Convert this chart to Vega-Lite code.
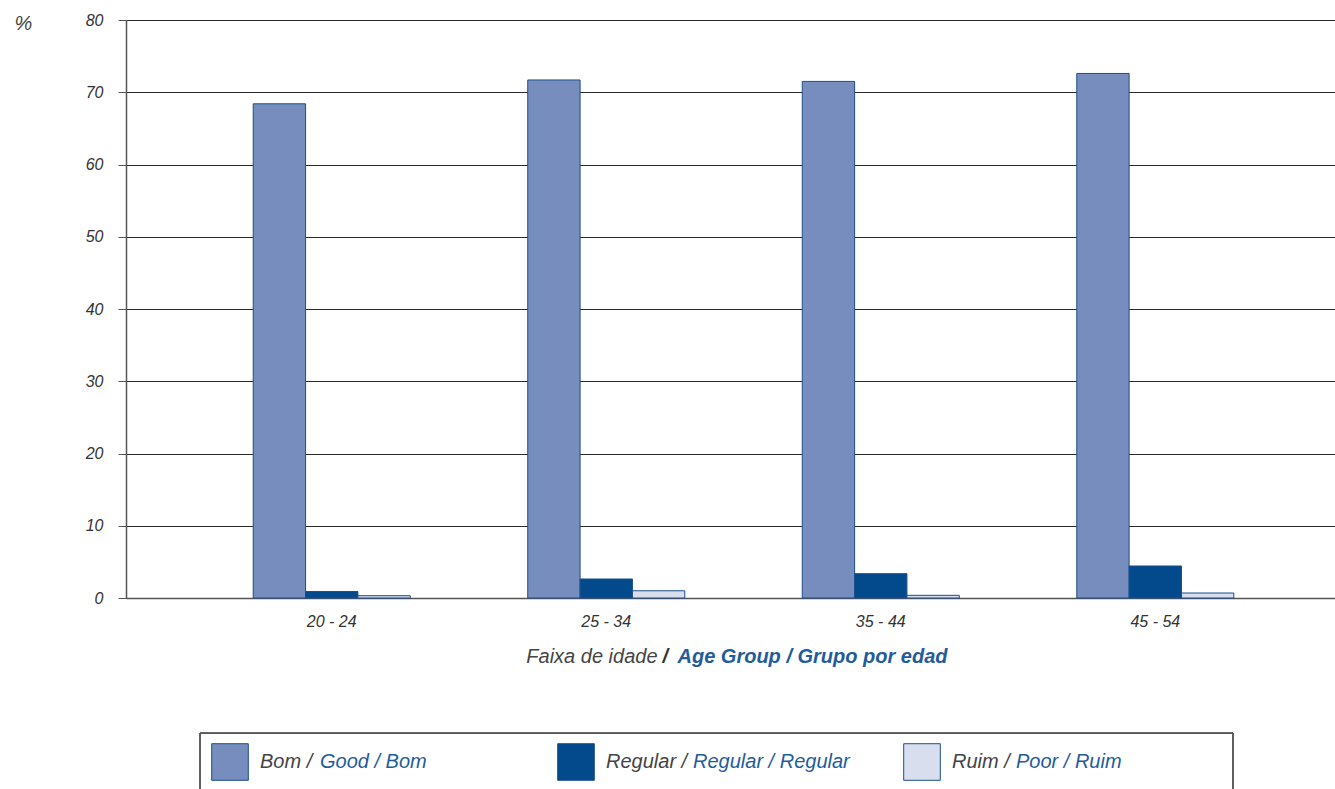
{
  "$schema": "https://vega.github.io/schema/vega-lite/v6.json",
  "width": 1209,
  "height": 578,
  "padding": {"left": 14, "top": 12, "right": 0, "bottom": 0},
  "background": "white",
  "config": {
    "view": {"stroke": null},
    "font": "Liberation Sans"
  },
  "datasets": {
    "bars": [
      {"age": "20 - 24", "cond": "Bom", "value": 68.4},
      {"age": "20 - 24", "cond": "Regular", "value": 0.9},
      {"age": "20 - 24", "cond": "Ruim", "value": 0.32},
      {"age": "25 - 34", "cond": "Bom", "value": 71.7},
      {"age": "25 - 34", "cond": "Regular", "value": 2.63},
      {"age": "25 - 34", "cond": "Ruim", "value": 1.0},
      {"age": "35 - 44", "cond": "Bom", "value": 71.5},
      {"age": "35 - 44", "cond": "Regular", "value": 3.37},
      {"age": "35 - 44", "cond": "Ruim", "value": 0.37},
      {"age": "45 - 54", "cond": "Bom", "value": 72.6},
      {"age": "45 - 54", "cond": "Regular", "value": 4.43},
      {"age": "45 - 54", "cond": "Ruim", "value": 0.69}
    ],
    "legend": [
      {"cond": "Bom", "pt": "Bom /", "en": "Good / Bom"},
      {"cond": "Regular", "pt": "Regular /", "en": "Regular / Regular"},
      {"cond": "Ruim", "pt": "Ruim /", "en": "Poor / Ruim"}
    ],
    "title": [
      {"a": "Faixa de idade", "b": "/", "c": "Age Group / Grupo por edad"}
    ]
  },
  "resolve": {"scale": {"x": "independent"}, "axis": {"x": "independent"}},
  "layer": [
    {
      "data": {"name": "bars"},
      "mark": {"type": "bar", "stroke": "#1d4e8c", "strokeWidth": 1},
      "encoding": {
        "x": {
          "field": "age", "type": "nominal",
          "scale": {"paddingInner": 0.428, "paddingOuter": 0.416, "align": 0.557},
          "axis": {
            "title": null, "labelAngle": 0, "ticks": false, "labelPadding": 15,
            "labelFont": "Liberation Sans", "labelFontStyle": "italic", "labelFontSize": 16,
            "labelColor": "#333", "domainColor": "#555", "domainWidth": 1.5, "grid": false
          }
        },
        "xOffset": {"field": "cond", "type": "nominal", "scale": {"paddingInner": 0, "paddingOuter": 0}},
        "y": {
          "field": "value", "type": "quantitative",
          "scale": {"domain": [0, 80], "nice": false},
          "axis": {
            "values": [0, 10, 20, 30, 40, 50, 60, 70, 80],
            "title": "%", "titleAngle": 0, "titleAlign": "left", "titleBaseline": "alphabetic",
            "titleX": -112, "titleY": 9, "titleFont": "Liberation Sans", "titleFontStyle": "italic",
            "titleFontWeight": "normal", "titleFontSize": 20, "titleColor": "#444",
            "labelFont": "Liberation Sans", "labelFontStyle": "italic", "labelFontSize": 16,
            "labelColor": "#333", "labelPadding": 15, "tickSize": 8, "tickColor": "#555",
            "domainColor": "#555", "domainWidth": 1.5,
            "grid": true, "gridColor": "#2a2a2a", "gridWidth": 1.1
          }
        },
        "fill": {
          "field": "cond", "type": "nominal",
          "scale": {"domain": ["Bom", "Regular", "Ruim"], "range": ["#778dbd", "#024a8c", "#d9deef"]},
          "legend": null
        }
      }
    },
    {
      "data": {"name": "legend"},
      "layer": [
        {
          "mark": {"type": "rule", "stroke": "#555", "strokeWidth": 1.2, "xOffset": -30, "x2Offset": 311},
          "encoding": {
            "x": {"datum": "Bom", "type": "nominal", "scale": {"type": "point", "domain": ["Bom", "Regular", "Ruim"], "range": [104, 796], "padding": 0}, "axis": null},
            "x2": {"datum": "Ruim"},
            "y": {"datum": -18.69, "type": "quantitative"}
          }
        },
        {
          "mark": {"type": "rule", "stroke": "#555", "strokeWidth": 1.2, "xOffset": -30},
          "encoding": {
            "x": {"datum": "Bom", "type": "nominal"},
            "y": {"datum": -18.69, "type": "quantitative"},
            "y2": {"datum": -26.6}
          }
        },
        {
          "mark": {"type": "rule", "stroke": "#555", "strokeWidth": 1.2, "xOffset": 311},
          "encoding": {
            "x": {"datum": "Ruim", "type": "nominal"},
            "y": {"datum": -18.69, "type": "quantitative"},
            "y2": {"datum": -26.6}
          }
        },
        {
          "mark": {"type": "square", "size": 1340, "opacity": 1, "stroke": "#1d4e8c", "strokeWidth": 1},
          "encoding": {
            "x": {"field": "cond", "type": "nominal"},
            "y": {"datum": -22.7, "type": "quantitative"},
            "fill": {"field": "cond", "type": "nominal", "legend": null}
          }
        },
        {
          "mark": {"type": "text", "align": "left", "baseline": "middle", "dx": 30, "font": "Liberation Sans", "fontStyle": "italic", "fontSize": 20, "fill": "#444"},
          "encoding": {
            "x": {"field": "cond", "type": "nominal"},
            "y": {"datum": -22.7, "type": "quantitative"},
            "text": {"field": "pt"}
          }
        },
        {
          "transform": [{"filter": "datum.cond === 'Bom'"}],
          "mark": {"type": "text", "align": "left", "baseline": "middle", "dx": 90, "font": "Liberation Sans", "fontStyle": "italic", "fontSize": 20, "fill": "#1f5c9c"},
          "encoding": {
            "x": {"field": "cond", "type": "nominal"},
            "y": {"datum": -22.7, "type": "quantitative"},
            "text": {"field": "en"}
          }
        },
        {
          "transform": [{"filter": "datum.cond === 'Regular'"}],
          "mark": {"type": "text", "align": "left", "baseline": "middle", "dx": 117, "font": "Liberation Sans", "fontStyle": "italic", "fontSize": 20, "fill": "#1f5c9c"},
          "encoding": {
            "x": {"field": "cond", "type": "nominal"},
            "y": {"datum": -22.7, "type": "quantitative"},
            "text": {"field": "en"}
          }
        },
        {
          "transform": [{"filter": "datum.cond === 'Ruim'"}],
          "mark": {"type": "text", "align": "left", "baseline": "middle", "dx": 94, "font": "Liberation Sans", "fontStyle": "italic", "fontSize": 20, "fill": "#1f5c9c"},
          "encoding": {
            "x": {"field": "cond", "type": "nominal"},
            "y": {"datum": -22.7, "type": "quantitative"},
            "text": {"field": "en"}
          }
        }
      ]
    },
    {
      "data": {"name": "title"},
      "mark": {"type": "text", "align": "right", "baseline": "middle", "dx": -73, "font": "Liberation Sans", "fontStyle": "italic", "fontSize": 20, "fill": "#444"},
      "encoding": {
        "y": {"datum": -8.17, "type": "quantitative"},
        "text": {"field": "a"}
      }
    },
    {
      "data": {"name": "title"},
      "mark": {"type": "text", "align": "left", "baseline": "middle", "dx": -68, "font": "Liberation Sans", "fontStyle": "italic", "fontWeight": "bold", "fontSize": 20, "fill": "#333"},
      "encoding": {
        "y": {"datum": -8.17, "type": "quantitative"},
        "text": {"field": "b"}
      }
    },
    {
      "data": {"name": "title"},
      "mark": {"type": "text", "align": "left", "baseline": "middle", "dx": -53, "font": "Liberation Sans", "fontStyle": "italic", "fontWeight": "bold", "fontSize": 20, "fill": "#1f5c9c"},
      "encoding": {
        "y": {"datum": -8.17, "type": "quantitative"},
        "text": {"field": "c"}
      }
    }
  ]
}
